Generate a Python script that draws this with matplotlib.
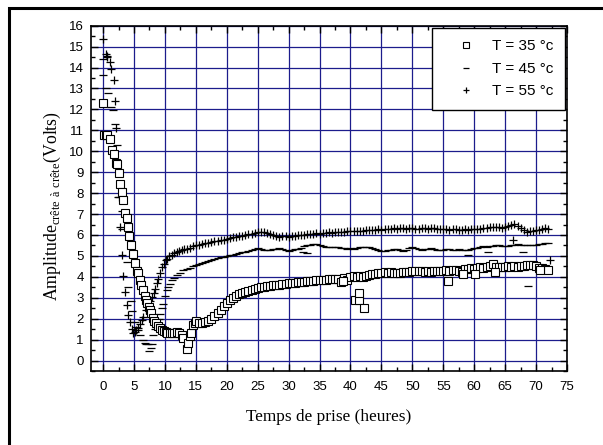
import matplotlib
matplotlib.use("Agg")
import matplotlib.pyplot as plt
from matplotlib.patches import Rectangle
from matplotlib.ticker import MultipleLocator

plt.rcParams['font.family'] = ['Liberation Sans', 'DejaVu Sans']
plt.rcParams['mathtext.fontset'] = 'custom'
plt.rcParams['mathtext.rm'] = 'Liberation Serif'

# common late time grid (heures)
t_late = [16.0, 16.5, 17.0, 17.5, 18.0, 18.5, 19.0, 19.5, 20.0, 20.5,
          21.0, 21.5, 22.0, 22.5, 23.0, 23.5, 24.0, 24.5, 25.0, 25.5,
          26.0, 26.5, 27.0, 27.5, 28.0, 28.5, 29.0, 29.5, 30.0, 30.5,
          31.0, 31.5, 32.0, 32.5, 33.0, 33.5, 34.0, 34.5, 35.0, 35.5,
          36.0, 36.5, 37.0, 37.5, 38.0, 38.5, 39.0, 39.5, 40.0, 40.5,
          41.0, 41.5, 42.0, 42.5, 43.0, 43.5, 44.0, 44.5, 45.0, 45.5,
          46.0, 46.5, 47.0, 47.5, 48.0, 48.5, 49.0, 49.5, 50.0, 50.5,
          51.0, 51.5, 52.0, 52.5, 53.0, 53.5, 54.0, 54.5, 55.0, 55.5,
          56.0, 56.5, 57.0, 57.5, 58.0, 58.5, 59.0, 59.5, 60.0, 60.5,
          61.0, 61.5, 62.0, 62.5, 63.0, 63.5, 64.0, 64.5, 65.0, 65.5,
          66.0, 66.5, 67.0, 67.5, 68.0, 68.5, 69.0, 69.5, 70.0, 70.5,
          71.0, 71.5, 72.0]

# T = 35 °c
t35_early = [0.0, 0.15, 0.4, 0.7, 1.1, 1.5, 1.8, 2.05, 2.2, 2.5, 2.75, 3.0,
             3.3, 3.55, 3.8, 4.0, 4.25, 4.5, 4.8, 5.2, 5.5, 5.7, 6.0, 6.2,
             6.4, 6.7, 6.9, 7.1, 7.4, 7.6, 7.8, 8.1, 8.3, 8.6, 8.9, 9.2,
             9.5, 9.8, 10.1, 10.4, 10.8, 11.1, 11.4, 11.9, 12.3, 12.7, 13.0,
             13.5, 13.8, 14.0, 14.2, 14.5, 14.8, 15.1, 15.5]
v35_early = [12.3, 10.78, 10.8, 10.78, 10.57, 10.06, 9.87, 9.45, 9.4, 8.97,
             8.46, 8.06, 7.66, 7.06, 6.8, 6.4, 5.94, 5.5, 5.1, 4.65, 4.3, 4.2,
             3.85, 3.6, 3.35, 3.1, 2.9, 2.75, 2.55, 2.4, 2.25, 2.05, 1.9,
             1.78, 1.65, 1.55, 1.45, 1.4, 1.36, 1.32, 1.3, 1.31, 1.33, 1.36,
             1.33, 1.2, 1.1, 0.56, 0.85, 1.15, 1.3, 1.68, 1.78, 1.9, 1.8]
v35_late = [1.80, 1.82, 1.88, 1.98, 2.12, 2.26, 2.42, 2.60, 2.76, 2.90,
            3.00, 3.08, 3.16, 3.22, 3.28, 3.33, 3.38, 3.42, 3.47, 3.50,
            3.53, 3.56, 3.58, 3.60, 3.62, 3.63, 3.65, 3.67, 3.69, 3.70,
            3.72, 3.74, 3.75, 3.77, 3.78, 3.80, 3.82, 3.84, 3.85, 3.86,
            3.87, 3.88, 3.89, 3.91, 3.90, 3.76, 3.95, 3.85, 3.97, 4.05,
            4.00, 4.02, 3.98, 4.06, 4.08, 4.12, 4.15, 4.18, 4.20, 4.22,
            4.19, 4.21, 4.18, 4.20, 4.18, 4.21, 4.22, 4.24, 4.26, 4.28,
            4.27, 4.29, 4.25, 4.27, 4.24, 4.26, 4.28, 4.30, 4.27, 4.33,
            4.29, 4.31, 4.34, 4.30, 4.25, 4.36, 4.39, 4.41, 4.38, 4.43,
            4.45, 4.42, 4.47, 4.50, 4.62, 4.48, 4.46, 4.49, 4.47, 4.50,
            4.48, 4.51, 4.49, 4.53, 4.52, 4.55, 4.56, 4.57, 4.50, 4.40,
            4.42, 4.36, 4.33]
t35_extra = [38.8, 40.7, 41.3, 41.4, 42.2, 55.7, 58.2, 60.1, 63.3, 70.6]
v35_extra = [3.78, 2.87, 2.87, 3.24, 2.52, 3.80, 4.15, 4.15, 4.23, 4.35]

# T = 45 °c
t45_early = [0.0, 0.0, 0.5, 0.8, 1.3, 1.6, 1.9, 2.3, 2.4, 3.0, 3.0, 3.8,
             4.1, 4.5, 4.7, 5.1, 5.4, 5.7, 6.0, 6.4, 6.7, 7.0, 7.3, 7.5,
             7.7, 7.9, 8.1, 8.4, 8.7, 9.0, 9.2, 9.5, 9.7, 10.0, 10.3, 10.5,
             10.8, 11.1, 11.5, 11.9, 12.5, 13.0, 13.5, 14.0, 14.6, 15.0, 15.5]
v45_early = [14.4, 13.65, 13.0, 12.8, 12.1, 11.95, 11.3, 10.3, 7.8, 7.15,
             6.3, 4.7, 3.5, 2.84, 2.36, 1.84, 1.6, 1.44, 1.2, 1.0, 0.85, 0.8,
             0.77, 0.45, 0.6, 0.8, 1.2, 1.5, 1.76, 2.0, 2.23, 2.5, 2.7, 3.1,
             3.35, 3.5, 3.68, 3.83, 3.95, 4.07, 4.2, 4.31, 4.38, 4.44, 4.5,
             4.55, 4.62]
v45_late = [4.68, 4.72, 4.76, 4.80, 4.85, 4.90, 4.93, 4.96, 5.00, 5.03,
            5.06, 5.10, 5.13, 5.17, 5.21, 5.25, 5.29, 5.33, 5.36, 5.34,
            5.28, 5.26, 5.30, 5.33, 5.35, 5.36, 5.32, 5.28, 5.25, 5.27,
            5.31, 5.35, 5.40, 5.45, 5.50, 5.54, 5.56, 5.55, 5.50, 5.46,
            5.44, 5.43, 5.42, 5.44, 5.41, 5.38, 5.36, 5.35, 5.37, 5.35,
            5.38, 5.42, 5.44, 5.43, 5.42, 5.38, 5.33, 5.29, 5.25, 5.24,
            5.26, 5.30, 5.35, 5.31, 5.26, 5.24, 5.29, 5.36, 5.41, 5.38,
            5.33, 5.30, 5.31, 5.35, 5.37, 5.33, 5.29, 5.27, 5.30, 5.33,
            5.31, 5.27, 5.29, 5.32, 5.30, 5.27, 5.29, 5.33, 5.36, 5.39,
            5.42, 5.45, 5.44, 5.47, 5.49, 5.50, 5.51, 5.48, 5.45, 5.47,
            5.50, 5.52, 5.55, 5.53, 5.50, 5.52, 5.54, 5.53, 5.51, 5.55,
            5.58, 5.60, 5.62]
t45_extra = [32.4, 32.9, 59.0, 62.3, 67.9, 68.7]
v45_extra = [5.20, 5.12, 5.03, 5.20, 5.19, 3.56]

# T = 55 °c
t55_early = [0.0, 0.5, 0.6, 0.7, 1.1, 1.3, 1.7, 1.9, 2.1, 2.5, 2.75, 3.0,
             3.3, 3.6, 3.8, 4.1, 4.4, 4.7, 4.9, 5.1, 5.4, 5.7, 6.0, 6.3, 6.5,
             6.9, 7.3, 7.6, 7.9, 8.2, 8.4, 8.7, 8.9, 9.2, 9.5, 9.8, 10.1,
             10.3, 10.7, 11.1, 11.5, 11.9, 12.3, 12.7, 13.1, 13.5, 14.0,
             14.5, 15.0, 15.5]
v55_early = [15.36, 14.64, 14.55, 14.5, 14.29, 13.93, 13.41, 12.42, 11.1,
             7.83, 6.37, 5.03, 4.02, 3.27, 2.63, 2.16, 1.84, 1.5, 1.3, 1.36,
             1.44, 1.55, 1.76, 1.95, 2.07, 2.4, 2.63, 2.85, 3.03, 3.25, 3.43,
             3.7, 3.91, 4.2, 4.47, 4.6, 4.8, 4.87, 4.98, 5.05, 5.12, 5.19,
             5.24, 5.28, 5.32, 5.35, 5.40, 5.46, 5.50, 5.53]
v55_late = [5.56, 5.60, 5.64, 5.67, 5.70, 5.73, 5.76, 5.78, 5.82, 5.85,
            5.88, 5.91, 5.94, 5.97, 6.00, 6.03, 6.06, 6.10, 6.14, 6.15,
            6.12, 6.08, 6.05, 6.00, 5.95, 5.92, 5.93, 5.94, 5.92, 5.95,
            5.96, 5.98, 6.00, 6.02, 6.03, 6.04, 6.06, 6.08, 6.07, 6.09,
            6.10, 6.12, 6.11, 6.13, 6.14, 6.16, 6.15, 6.17, 6.18, 6.20,
            6.19, 6.21, 6.20, 6.22, 6.24, 6.23, 6.25, 6.27, 6.26, 6.28,
            6.30, 6.29, 6.31, 6.30, 6.32, 6.31, 6.30, 6.32, 6.31, 6.29,
            6.30, 6.32, 6.31, 6.30, 6.32, 6.31, 6.29, 6.28, 6.30, 6.27,
            6.26, 6.28, 6.27, 6.25, 6.26, 6.28, 6.26, 6.27, 6.29, 6.28,
            6.30, 6.32, 6.34, 6.36, 6.38, 6.40, 6.37, 6.35, 6.40, 6.45,
            6.48, 6.52, 6.45, 6.33, 6.22, 6.15, 6.17, 6.20, 6.22, 6.25,
            6.30, 6.35, 6.30]
t55_extra = [66.3, 72.3]
v55_extra = [5.75, 4.82]

labels = ['T = 35 °c', 'T = 45 °c', 'T = 55 °c']

fig = plt.figure(figsize=(6.03, 4.45), dpi=100)
ax = fig.add_axes([0.1504, 0.1663, 0.7899, 0.7759])

ax.grid(True, which='major', color='#1c1c8c', linewidth=0.9)
ax.set_axisbelow(True)

ax.plot(t55_early + t_late + t55_extra, v55_early + v55_late + v55_extra,
        linestyle='none', marker='+', markersize=5.5, markeredgewidth=0.9,
        color='black', label=labels[2])
ax.plot(t45_early + t_late + t45_extra, v45_early + v45_late + v45_extra,
        linestyle='none', marker='_', markersize=6, markeredgewidth=0.9,
        color='black', label=labels[1])
ax.plot(t35_early + t_late + t35_extra, v35_early + v35_late + v35_extra,
        linestyle='none', marker='s', markersize=5.5, markeredgewidth=0.8,
        markerfacecolor='white', markeredgecolor='black', label=labels[0])

ax.set_xlim(-2, 75)
ax.set_ylim(-0.5, 16)
ax.xaxis.set_major_locator(MultipleLocator(5))
ax.xaxis.set_minor_locator(MultipleLocator(2.5))
ax.yaxis.set_major_locator(MultipleLocator(1))
ax.yaxis.set_minor_locator(MultipleLocator(0.5))
ax.tick_params(which='both', direction='in', top=True, right=True, width=1)
ax.tick_params(which='major', length=5, labelsize=9.5)
ax.tick_params(which='minor', length=3)
ax.tick_params(axis='x', which='major', pad=7)
ax.tick_params(axis='y', which='major', pad=5)
for s in ax.spines.values():
    s.set_linewidth(1.2)

ax.set_xlabel('Temps de prise (heures)', family='Liberation Serif',
              fontsize=12.4, labelpad=12)
ax.set_ylabel(r'Amplitude$_{\mathrm{crête\ à\ crête}}$(Volts)',
              family='Liberation Serif', fontsize=12.8)
ax.yaxis.set_label_coords(-0.058, 0.478)

h, l = ax.get_legend_handles_labels()
leg = ax.legend(h[::-1], l[::-1], loc='upper right', fontsize=11,
                frameon=True, fancybox=False, edgecolor='black',
                borderaxespad=0.15, borderpad=0.75, labelspacing=0.55,
                markerscale=0.8, handlelength=2.9, handletextpad=0.25)
leg.get_frame().set_linewidth(1)
leg.get_frame().set_alpha(1)

fig.patches.append(Rectangle((0.0145, -0.2), 1.2, 1.181,
                             transform=fig.transFigure, fill=False,
                             edgecolor='black', linewidth=2.2))

fig.savefig('out.png', dpi=100)
